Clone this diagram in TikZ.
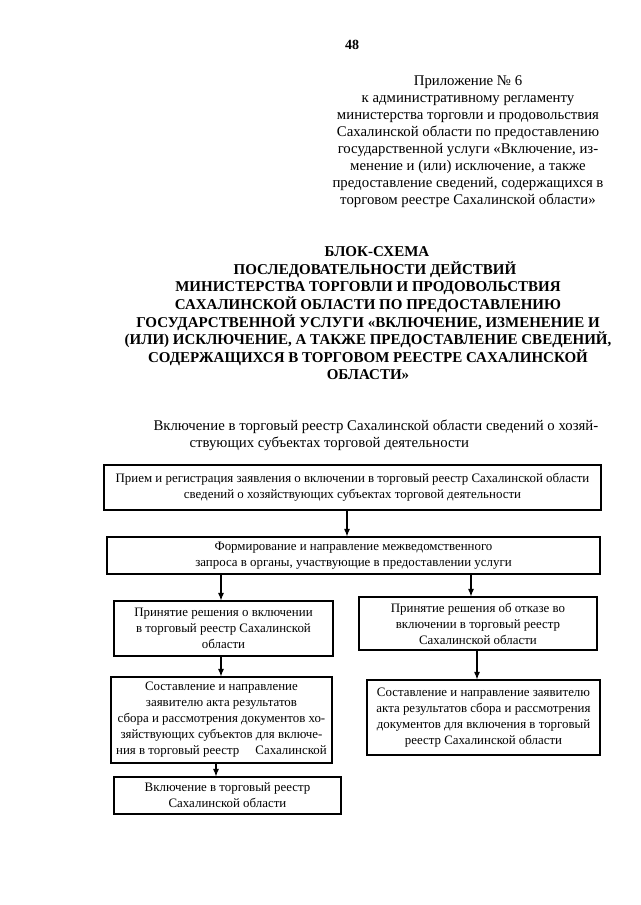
\documentclass[tikz,border=0pt]{standalone}
\usepackage{fontspec}
\setmainfont{Liberation Serif}
\usetikzlibrary{arrows.meta}
\usetikzlibrary{positioning}

\begin{document}
\begin{tikzpicture}[x=1pt, y=-1pt,
    stepbox/.style={rectangle, draw=black, line width=1.1pt, inner sep=0pt, align=center,
      font=\fontsize{12.9}{16}\selectfont},
    flow/.style={-{Latex[length=7.5pt, width=6pt]}, line width=1.1pt}]

        % Page frame
        \useasboundingbox (0, 0) rectangle (640, 905);

        % Page number and appendix note
        \node[font=\bfseries\fontsize{14}{15}\selectfont] (page) at (352, 45) {48};
        \node[align=center, font=\fontsize{14.8}{17}\selectfont] (note) at (468, 141.5)
          {Приложение № 6\\
           к административному регламенту\\
           министерства торговли и продовольствия\\
           Сахалинской области по предоставлению\\
           государственной услуги «Включение, из-\\
           менение и (или) исключение, а также\\
           предоставление сведений, содержащихся в\\
           торговом реестре Сахалинской области»};

        % Title
        \node[align=center, font=\bfseries\fontsize{15}{17.6}\selectfont] (title) at (368, 313.5)
          {\hspace{18pt}БЛОК-СХЕМА\\
           \hspace{14pt}ПОСЛЕДОВАТЕЛЬНОСТИ ДЕЙСТВИЙ\\
           МИНИСТЕРСТВА ТОРГОВЛИ И ПРОДОВОЛЬСТВИЯ\\
           САХАЛИНСКОЙ ОБЛАСТИ ПО ПРЕДОСТАВЛЕНИЮ\\
           ГОСУДАРСТВЕННОЙ УСЛУГИ «ВКЛЮЧЕНИЕ, ИЗМЕНЕНИЕ И\\
           (ИЛИ) ИСКЛЮЧЕНИЕ, А ТАКЖЕ ПРЕДОСТАВЛЕНИЕ СВЕДЕНИЙ,\\
           СОДЕРЖАЩИХСЯ В ТОРГОВОМ РЕЕСТРЕ САХАЛИНСКОЙ\\
           ОБЛАСТИ»};

        % Subtitle
        \node[anchor=west, font=\fontsize{14.8}{17}\selectfont] (sub1) at (150, 427)
          {Включение в торговый реестр Сахалинской области сведений о хозяй-};
        \node[anchor=west, font=\fontsize{14.8}{17}\selectfont] (sub2) at (186, 444)
          {ствующих субъектах торговой деятельности};

        % Boxes of the scheme
        \node[stepbox, minimum width=497, minimum height=45] (priem) at (352.5, 487.5)
          {Прием и регистрация заявления о включении в торговый реестр Сахалинской области\\
           сведений о хозяйствующих субъектах торговой деятельности};
        \node[stepbox, minimum width=493, minimum height=37] (zapros) at (353.5, 555.5)
          {Формирование и направление межведомственного\\
           запроса в органы, участвующие в предоставлении услуги};
        \node[stepbox, minimum width=219, minimum height=55] (reshvkl) at (223.5, 628.5)
          {Принятие решения о включении\\
           в торговый реестр Сахалинской\\
           области};
        \node[stepbox, minimum width=238, minimum height=53] (otkaz) at (478, 623.5)
          {Принятие решения об отказе во\\
           включении в торговый реестр\\
           Сахалинской области};
        \node[stepbox, minimum width=221, minimum height=86] (aktvkl) at (221.5, 720)
          {Составление и направление\\
           заявителю акта результатов\\
           сбора и рассмотрения документов хо-\\
           зяйствующих субъектов для включе-\\
           ния в торговый реестр\hspace{1em} Сахалинской};
        \node[stepbox, minimum width=233, minimum height=75] (aktotk) at (483.5, 717.5)
          {Составление и направление заявителю\\
           акта результатов сбора и рассмотрения\\
           документов для включения в торговый\\
           реестр Сахалинской области};
        \node[stepbox, minimum width=227, minimum height=37] (vkl) at (227.5, 795.5)
          {Включение в торговый реестр\\
           Сахалинской области};

        % Arrows between the boxes
        \draw[flow] ([xshift=-5.5]priem.south) -- ([xshift=-6.5]zapros.north);
        \draw[flow] ([xshift=-132.5]zapros.south) -- ([xshift=-2.5]reshvkl.north);
        \draw[flow] ([xshift=117.5]zapros.south) -- ([xshift=-7]otkaz.north);
        \draw[flow] ([xshift=-2.5]reshvkl.south) -- ([xshift=-0.5]aktvkl.north);
        \draw[flow] ([xshift=-1]otkaz.south) -- ([xshift=-6.5]aktotk.north);
        \draw[flow] ([xshift=-5.5]aktvkl.south) -- ([xshift=-11.5]vkl.north);

      \end{tikzpicture}
\end{document}
